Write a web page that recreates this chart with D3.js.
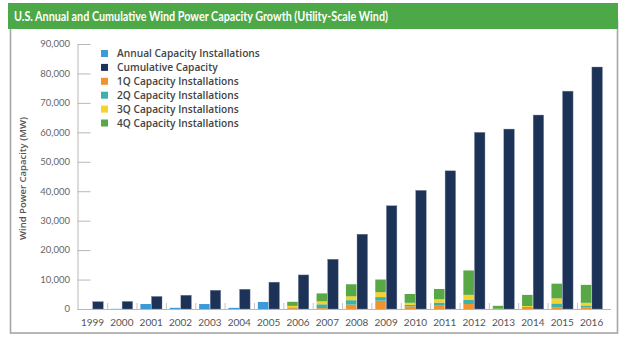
<!DOCTYPE html>
<html>
<head>
<meta charset="utf-8">
<script src="https://cdn.jsdelivr.net/npm/d3@7"></script>
<style>
  html, body { margin: 0; padding: 0; background: #fff; }
  svg { display: block; }
</style>
</head>
<body>
<svg id="chart" width="624" height="342"></svg>
<script>
const years = ["1999","2000","2001","2002","2003","2004","2005","2006","2007","2008","2009","2010","2011","2012","2013","2014","2015","2016"];
const annual = [0, 67, 1697, 410, 1687, 389, 2396, null, null, null, null, null, null, null, null, null, null, null];
const cumulative = [2500, 2578, 4275, 4685, 6372, 6725, 9121, 11575, 16907, 25410, 35067, 40298, 46929, 60005, 61110, 65877, 73992, 82183];
const q1 = [null, null, null, null, null, null, null, 300, 300, 1500, 2836, 900, 1100, 1700, 0, 400, 600, 600];
const q2 = [null, null, null, null, null, null, null, 250, 1300, 1500, 1210, 500, 1100, 1500, 0, 300, 1300, 600];
const q3 = [null, null, null, null, null, null, null, 500, 1000, 1300, 1649, 700, 1100, 1600, 80, 300, 1700, 900];
const q4 = [null, null, null, null, null, null, null, 1400, 2700, 4100, 4315, 3000, 3500, 8300, 1000, 3800, 5000, 6100];
const yTicks = [0, 10000, 20000, 30000, 40000, 50000, 60000, 70000, 80000, 90000];
const legendLabels = ["Annual Capacity Installations", "Cumulative Capacity", "1Q Capacity Installations", "2Q Capacity Installations", "3Q Capacity Installations", "4Q Capacity Installations"];
const title = "U.S. Annual and Cumulative Wind Power Capacity Growth (Utility-Scale Wind)";
const yLabel = "Wind Power Capacity (MW)";

const colors = {
  annual: "#3d9ad8", cumulative: "#1d3257",
  q1: "#f0922e", q2: "#3cb2a8", q3: "#f6d22a", q4: "#58a845"
};
const legendColors = [colors.annual, colors.cumulative, colors.q1, colors.q2, colors.q3, colors.q4];

const svg = d3.select("#chart");
const font = "Lato, 'Open Sans', sans-serif";
const font2 = "'Open Sans', Lato, sans-serif";

// frame
svg.append("rect").attr("x", 10.5).attr("y", 20).attr("width", 607).attr("height", 313)
  .attr("fill", "none").attr("stroke", "#a6a6a6").attr("stroke-width", 1.6);
// header
svg.append("rect").attr("x", 8).attr("y", 3).attr("width", 610).attr("height", 26).attr("fill", "#4da847");
svg.append("text").attr("x", 14).attr("y", 20.5).text(title)
  .attr("fill", "#fff").attr("font-family", font).attr("font-weight", 700)
  .attr("font-size", 12.5).attr("textLength", 374).attr("lengthAdjust", "spacingAndGlyphs");

const x = d3.scaleBand().domain(years).range([77.8, 606.3]).padding(0);
const x1 = d3.scaleBand().domain(["annual", "cumulative"]).range([0, x.bandwidth()])
  .paddingInner(0.05).paddingOuter(0.35);
const y = d3.scaleLinear().domain([0, 90000]).range([309, 44]);

// y axis
const yAxis = svg.append("g").attr("transform", "translate(77.5,0)")
  .call(d3.axisRight(y).tickValues(yTicks).tickSize(13).tickFormat(""));
yAxis.select(".domain").attr("stroke", "#b8b8b8").attr("d", `M0.5,${y(90000)}V${y(0)}`);
yAxis.selectAll(".tick line").attr("stroke", "#b8b8b8");
svg.append("g").selectAll("text").data(yTicks).join("text")
  .attr("x", 70).attr("y", d => y(d)).attr("dy", "0.35em").attr("text-anchor", "end")
  .attr("font-family", font).attr("font-size", 9.5).attr("fill", "#666")
  .text(d => d3.format(",")(d));

svg.append("text")
  .attr("transform", `translate(26,${(y(0) + y(90000)) / 2 + 2}) rotate(-90)`)
  .attr("text-anchor", "middle").attr("font-family", font2).attr("font-weight", 600)
  .attr("font-size", 9.5).attr("fill", "#555").text(yLabel);

// bars
const g = svg.append("g");
const idx = d3.range(years.length);
g.selectAll("rect.cum").data(idx).join("rect").attr("class", "cum")
  .attr("x", i => x(years[i]) + x1("cumulative")).attr("width", x1.bandwidth())
  .attr("y", i => y(cumulative[i])).attr("height", i => y(0) - y(cumulative[i]))
  .attr("fill", colors.cumulative).attr("stroke", "#7f8aa0").attr("stroke-width", 0.4);
g.selectAll("rect.ann").data(idx.filter(i => annual[i])).join("rect").attr("class", "ann")
  .attr("x", i => x(years[i]) + x1("annual")).attr("width", x1.bandwidth())
  .attr("y", i => y(annual[i])).attr("height", i => y(0) - y(annual[i]))
  .attr("fill", colors.annual);

const stackRows = idx.filter(i => q1[i] !== null).map(i => ({
  year: years[i], q1: q1[i], q2: q2[i], q3: q3[i], q4: q4[i]
}));
const stack = d3.stack().keys(["q1", "q2", "q3", "q4"])(stackRows);
g.selectAll("g.layer").data(stack).join("g").attr("class", "layer")
  .attr("fill", d => colors[d.key])
  .selectAll("rect").data(d => d).join("rect")
  .attr("x", d => x(d.data.year) + x1("annual")).attr("width", x1.bandwidth())
  .attr("y", d => y(d[1])).attr("height", d => y(d[0]) - y(d[1]));

// x axis
svg.append("line").attr("x1", 77.5).attr("x2", 611).attr("y1", y(0) + 0.5).attr("y2", y(0) + 0.5)
  .attr("stroke", "#b8b8b8").attr("stroke-width", 1);
svg.append("g").selectAll("line").data(years.slice(1)).join("line")
  .attr("x1", d => x(d) + 0.5).attr("x2", d => x(d) + 0.5)
  .attr("y1", y(0) - 6).attr("y2", y(0)).attr("stroke", "#c4c4c4");
svg.append("g").selectAll("text").data(years).join("text")
  .attr("x", d => x(d) + x.bandwidth() / 2).attr("y", 322).attr("dy", "0.35em")
  .attr("text-anchor", "middle").attr("font-family", font).attr("font-size", 10).attr("fill", "#555")
  .text(d => d);

// legend
const lg = svg.append("g");
legendLabels.forEach((lab, i) => {
  const cy = 53.5 + i * 13.9;
  lg.append("rect").attr("x", 101).attr("y", cy - 3.5).attr("width", 7).attr("height", 7).attr("fill", legendColors[i]);
  lg.append("text").attr("x", 117).attr("y", cy).attr("dy", "0.35em")
    .attr("font-family", font2).attr("font-weight", 600).attr("font-size", 10.2).attr("fill", "#444")
    .text(lab);
});
</script>
</body>
</html>
